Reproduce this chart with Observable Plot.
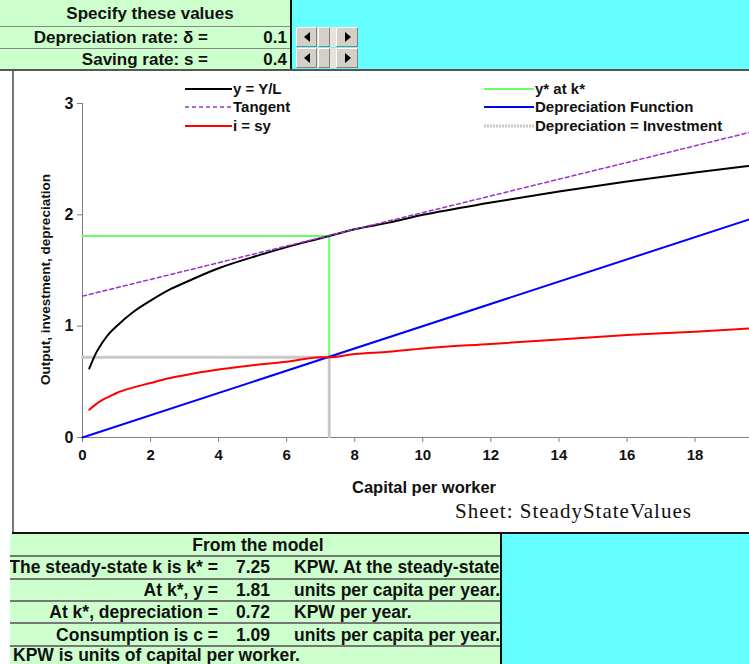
<!DOCTYPE html>
<html><head><meta charset="utf-8">
<script src="https://cdn.jsdelivr.net/npm/d3@7"></script>
<script src="https://cdn.jsdelivr.net/npm/@observablehq/plot@0.6"></script>
<style>
body{margin:0;background:#fff;}
#page{position:relative;width:749px;height:664px;overflow:hidden;background:#fff;font-family:"Liberation Sans",Arial,sans-serif;}
.a{position:absolute;}
.cell{position:absolute;white-space:nowrap;font-weight:bold;color:#111;}
.top{font-size:17px;line-height:18px;}
.bot{font-family:"Liberation Sans Narrow","Arial Narrow","Liberation Sans",Arial,sans-serif;font-size:17.5px;line-height:19px;font-stretch:condensed;}
.btn{position:absolute;background:#d4d0c8;border-top:1px solid #fff;border-left:1px solid #fff;border-right:1px solid #808080;border-bottom:1px solid #808080;box-sizing:border-box;}
.leg{position:absolute;font-weight:bold;font-size:15px;white-space:nowrap;color:#111;line-height:16px;}
</style></head><body><div id="page"></div>
<script>
// ---- data ----
const kValues      = [0.2, 0.4, 0.6, 0.8, 1, 1.5, 2, 2.5, 3, 4, 5, 6, 7, 7.25, 8, 9, 10, 12, 14, 16, 18, 19.6];
const outputValues = [0.62, 0.76, 0.86, 0.94, 1.00, 1.13, 1.23, 1.32, 1.39, 1.52, 1.62, 1.71, 1.79, 1.81, 1.87, 1.93, 2.00, 2.11, 2.21, 2.30, 2.38, 2.44];
const investValues = [0.25, 0.30, 0.34, 0.37, 0.40, 0.45, 0.49, 0.53, 0.56, 0.61, 0.65, 0.68, 0.72, 0.72, 0.75, 0.77, 0.80, 0.84, 0.88, 0.92, 0.95, 0.98];
const depK         = [0, 19.6];
const depValues    = [0, 1.96];
const tangentK     = [0, 19.6];
const tangentValues= [1.27, 2.74];
const kStar = 7.25, yStar = 1.81, dStar = 0.72;
const xTicks = [0, 2, 4, 6, 8, 10, 12, 14, 16, 18];
const yTicks = [0, 1, 2, 3];
const xLabel = "Capital per worker";
const yLabel = "Output, investment, depreciation";
const legendLeft  = [["y = Y/L","#000",false,2],["Tangent","#9933cc",true,1.5],["i = sy","#ff0000",false,2]];
const legendRight = [["y* at k*","#66ff66",false,2],["Depreciation Function","#0000ff",false,2],["Depreciation = Investment","#c8c8c8",false,3]];
const inputLabels = ["Depreciation rate: δ =", "Saving rate: s ="];
const inputValues = ["0.1", "0.4"];
const modelLabels = ["The steady-state k is k* =", "At k*, y =", "At k*, depreciation =", "Consumption is c ="];
const modelValues = ["7.25", "1.81", "0.72", "1.09"];
const modelUnits  = ["KPW. At the steady-state", "units per capita per year.", "KPW per year.", "units per capita per year."];

const page = document.getElementById("page");
function box(css, html, cls){const d=document.createElement("div");d.className=cls||"a";d.style.cssText=css;if(html!=null)d.innerHTML=html;page.appendChild(d);return d;}

// ---- top table ----
box("left:0;top:0;width:290px;height:70px;background:#ccffcc;");
box("left:292px;top:0;width:457px;height:70px;background:#66ffff;");
box("left:290px;top:0;width:2px;height:70px;background:#111;");
box("left:0;top:26px;width:290px;height:1px;background:#888;");
box("left:0;top:48px;width:290px;height:1px;background:#888;");
box("left:0;top:69px;width:749px;height:2px;background:#555;");
box("left:0;top:5px;width:300px;text-align:center;", "Specify these values", "cell top");
inputLabels.forEach((t,i)=>{
  box(`left:0;top:${29+i*22}px;width:208px;text-align:right;`, t, "cell top");
  box(`left:200px;top:${29+i*22}px;width:87px;text-align:right;`, inputValues[i], "cell top");
  const y = 27 + i*21;
  box(`left:296px;top:${y}px;width:62px;height:20px;background:#e6e3dc;`);
  box(`left:296px;top:${y}px;width:21px;height:20px;`, null, "btn");
  box(`left:336px;top:${y}px;width:22px;height:20px;`, null, "btn");
  box(`left:318px;top:${y}px;width:12px;height:20px;`, null, "btn");
  box(`left:304px;top:${y+5}px;width:0;height:0;border-top:5px solid transparent;border-bottom:5px solid transparent;border-right:6px solid #000;`);
  box(`left:345px;top:${y+5}px;width:0;height:0;border-top:5px solid transparent;border-bottom:5px solid transparent;border-left:6px solid #000;`);
});

// ---- chart frame ----
box("left:12px;top:71px;width:2px;height:463px;background:#777;");
box("left:12px;top:532px;width:737px;height:2px;background:#111;");

// ---- chart ----
const rows = kValues.map((k,i)=>({k, y: outputValues[i], inv: investValues[i]}));
const dep = depK.map((k,i)=>({k, v: depValues[i]}));
const tan = tangentK.map((k,i)=>({k, v: tangentValues[i]}));
const greenPath = [{k:0,v:yStar},{k:kStar,v:yStar},{k:kStar,v:dStar}];
const grayPath = [{k:0,v:dStar},{k:kStar,v:dStar},{k:kStar,v:0}];

const chart = Plot.plot({
  width: 737, height: 463,
  marginLeft: 70, marginRight: 0, marginTop: 33, marginBottom: 96,
  style: {fontFamily: "Liberation Sans, Arial, sans-serif", fontSize: "15px", fontWeight: "bold", background: "transparent", overflow: "visible", color: "#111"},
  x: {domain: [0, 19.6]},
  y: {domain: [0, 3]},
  marks: [
    Plot.ruleX([0], {stroke: "#808080"}),
    Plot.ruleY([0], {stroke: "#808080"}),
    Plot.axisX({ticks: xTicks, tickSize: 5, tickPadding: 7, label: null, stroke: "#808080", tickFormat: d => String(d), fontSize: 15}),
    Plot.axisY({ticks: yTicks, tickSize: 5, tickPadding: 4, label: null, stroke: "#808080", tickFormat: d => String(d), fontSize: 16}),
    Plot.line(grayPath, {x: "k", y: "v", stroke: "#c8c8c8", strokeWidth: 3, strokeDasharray: "2,1"}),
    Plot.line(greenPath, {x: "k", y: "v", stroke: "#66ff66", strokeWidth: 2}),
    Plot.line(dep, {x: "k", y: "v", stroke: "#0000ff", strokeWidth: 2}),
    Plot.line(rows, {x: "k", y: "inv", stroke: "#ff0000", strokeWidth: 2, curve: "monotone-x"}),
    Plot.line(rows, {x: "k", y: "y", stroke: "#000", strokeWidth: 2, curve: "monotone-x"}),
    Plot.line(tan, {x: "k", y: "v", stroke: "#9933cc", strokeWidth: 1.5, strokeDasharray: "4,3"}),
    Plot.text([xLabel], {frameAnchor: "bottom", dx: 8, dy: 55, fontSize: 16.5, fontWeight: "bold"}),
    Plot.text([yLabel], {frameAnchor: "left", textAnchor: "middle", dx: -37, dy: 9, rotate: -90, fontSize: 13.5, fontWeight: "bold"})
  ]
});
chart.style.position = "absolute";
chart.style.left = "12px";
chart.style.top = "70px";
page.appendChild(chart);

// ---- legend ----
function legendItem(item, x1, x2, yc){
  const [label, color, dashed, w] = item;
  const s = document.createElementNS("http://www.w3.org/2000/svg","svg");
  s.setAttribute("width", x2-x1); s.setAttribute("height", 6);
  s.style.cssText = `position:absolute;left:${x1}px;top:${yc-3}px;`;
  const l = document.createElementNS("http://www.w3.org/2000/svg","line");
  l.setAttribute("x1",0);l.setAttribute("x2",x2-x1);l.setAttribute("y1",3);l.setAttribute("y2",3);
  l.setAttribute("stroke",color);l.setAttribute("stroke-width",w);
  if(dashed) l.setAttribute("stroke-dasharray","4,3");
  if(w===3) l.setAttribute("stroke-dasharray","2,1");
  s.appendChild(l); page.appendChild(s);
  box(`left:${x2+1}px;top:${yc-8}px;`, label, "leg");
}
const legRows = [89, 107, 126];
legendLeft.forEach((it,i)=>legendItem(it, 185, 232, legRows[i]));
legendRight.forEach((it,i)=>legendItem(it, 484, 534, legRows[i]));

box("left:455px;top:499px;font-family:'Liberation Serif','Times New Roman',serif;font-size:21px;letter-spacing:1px;white-space:nowrap;color:#111;", "Sheet: SteadyStateValues");

// ---- bottom table ----
const bt = box("left:10px;top:534px;width:490px;height:130px;background:#ccffcc;overflow:hidden;");
box("left:500px;top:532px;width:2px;height:132px;background:#111;");
box("left:502px;top:534px;width:247px;height:130px;background:#66ffff;");
[555, 578, 600, 622, 645].forEach(y=>box(`left:10px;top:${y}px;width:490px;height:2px;background:#777;`));
box("left:10px;top:536px;width:496px;text-align:center;", "From the model", "cell bot");
modelLabels.forEach((t,i)=>{
  const top = 558 + i*22.5;
  const lab = document.createElement("div"); lab.className="cell bot";
  lab.style.cssText = `right:${490-208}px;top:${top-534}px;text-align:right;`;
  lab.textContent = t; bt.appendChild(lab);
  box(`left:236px;top:${top}px;`, modelValues[i], "cell bot");
  box(`left:294px;top:${top}px;`, modelUnits[i], "cell bot");
});
box("left:13px;top:646px;", "KPW is units of capital per worker.", "cell bot");
</script></body></html>
